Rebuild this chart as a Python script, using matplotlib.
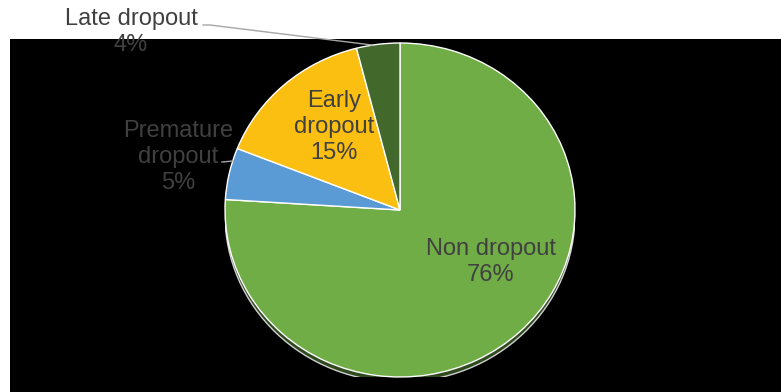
import matplotlib.pyplot as plt
from matplotlib.patches import Ellipse

labels = ['Non dropout', 'Premature\ndropout', 'Early\ndropout', 'Late dropout']
shares = [76, 5, 15, 4]
colors = ['#70AD47', '#5B9BD5', '#FBBF12', '#43682B']

W, H = 781, 392
fig = plt.figure(figsize=(W / 100, H / 100), dpi=100)
fig.patch.set_facecolor('white')

# black plot area (as a background axes so it sits under the pie)
bg = fig.add_axes([10 / W, 0, 1 - 10 / W, 1 - 39 / H], zorder=-5)
bg.set_facecolor('black')
bg.set_xticks([])
bg.set_yticks([])
for s in bg.spines.values():
    s.set_visible(False)

cx, cy, rx, ry = 400, 210, 175, 167
ax = fig.add_axes([(cx - rx) / W, (H - cy - ry) / H, 2 * rx / W, 2 * ry / H])
ax.patch.set_alpha(0)

# shadow under the pie
ax.add_patch(Ellipse((0, -0.03), 2.0, 2.0, facecolor='#2f4a1f',
                     edgecolor='#d0d0d0', linewidth=1.0, zorder=0))

wedges, _ = ax.pie(shares, colors=colors, startangle=90, counterclock=False,
                   wedgeprops=dict(edgecolor='white', linewidth=1.0))
ax.set_aspect('auto')
ax.set_xlim(-1, 1)
ax.set_ylim(-1, 1)
ax.axis('off')

font = dict(family='Liberation Sans', fontsize=17, ha='center', va='center',
            linespacing=1.22)


def put(px, py, s, color):
    fig.text(px / W, 1 - py / H, s, color=color, **font)


put(131, 32, 'Late dropout\n4%', '#404040')
put(178, 157, 'Premature\ndropout\n5%', '#404040')
put(334, 127, 'Early\ndropout\n15%', '#404040')
put(491, 262, 'Non dropout\n76%', '#404040')

# leader lines
fig.add_artist(plt.Line2D([203 / W, 210 / W, 372 / W],
                          [1 - 25 / H, 1 - 25 / H, 1 - 45 / H],
                          color='#A6A6A6', linewidth=1.0))
fig.add_artist(plt.Line2D([222 / W, 233 / W], [1 - 162 / H, 1 - 161 / H],
                          color='#A6A6A6', linewidth=1.0))

fig.savefig('out.png', dpi=100)
